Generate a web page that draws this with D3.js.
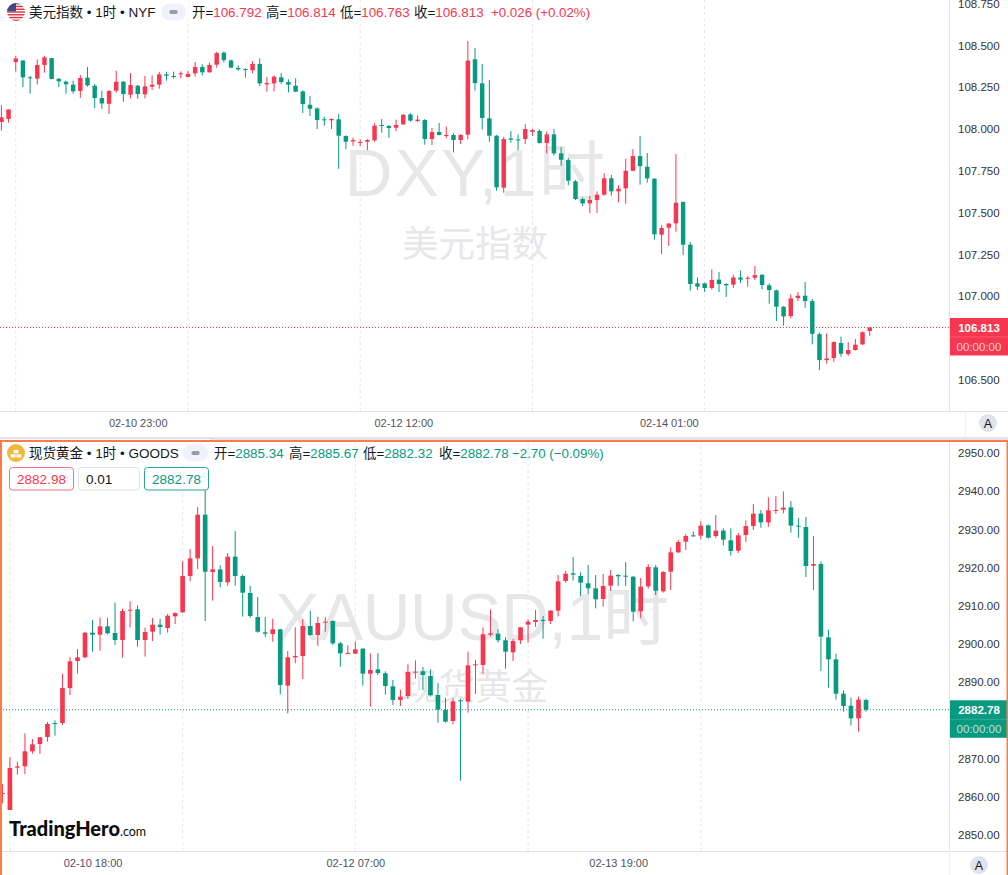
<!DOCTYPE html>
<html>
<head>
<meta charset="utf-8">
<script src="https://cdn.jsdelivr.net/npm/d3@7"></script>
<style>
  html, body { margin: 0; padding: 0; background: #fff; }
  svg { display: block; font-family: "Liberation Sans", "Noto Sans CJK SC", sans-serif; }
  .domain { display: none; }
</style>
</head>
<body>
<div id="chart"></div>
<script>
// [open, high, low, close] per hourly candle
const dxyCandles = [
  [108.042,108.143,107.990,108.070],[108.060,108.117,108.038,108.117],[108.400,108.436,108.343,108.422],[108.410,108.412,108.251,108.309],
  [108.309,108.317,108.211,108.303],[108.301,108.416,108.267,108.383],[108.383,108.438,108.337,108.428],[108.424,108.426,108.297,108.299],
  [108.301,108.303,108.251,108.285],[108.283,108.289,108.211,108.267],[108.265,108.289,108.211,108.225],[108.227,108.323,108.187,108.305],
  [108.307,108.371,108.253,108.261],[108.259,108.269,108.125,108.185],[108.185,108.229,108.121,108.153],[108.151,108.233,108.089,108.227],
  [108.229,108.349,108.217,108.283],[108.283,108.287,108.163,108.209],[108.205,108.335,108.183,108.263],[108.259,108.263,108.181,108.209],
  [108.207,108.317,108.183,108.255],[108.253,108.321,108.233,108.265],[108.265,108.341,108.241,108.327],[108.327,108.343,108.289,108.319],
  [108.317,108.343,108.301,108.313],[108.327,108.345,108.303,108.333],[108.311,108.349,108.309,108.329],[108.333,108.401,108.313,108.371],
  [108.371,108.387,108.321,108.339],[108.339,108.397,108.337,108.383],[108.385,108.462,108.367,108.454],[108.456,108.464,108.397,108.412],
  [108.410,108.416,108.365,108.367],[108.365,108.381,108.349,108.357],[108.359,108.363,108.307,108.355],[108.351,108.406,108.333,108.389],
  [108.389,108.422,108.257,108.273],[108.267,108.311,108.223,108.275],[108.273,108.321,108.225,108.313],[108.309,108.335,108.269,108.281],
  [108.281,108.297,108.219,108.265],[108.259,108.303,108.221,108.223],[108.225,108.231,108.095,108.149],[108.145,108.197,108.078,108.121],
  [108.123,108.129,108.000,108.054],[108.058,108.074,108.020,108.052],[108.052,108.064,108.000,108.060],[108.058,108.089,107.762,107.960],
  [107.958,107.962,107.880,107.924],[107.926,107.948,107.900,107.934],[107.916,107.938,107.898,107.922],[107.924,107.940,107.874,107.934],
  [107.932,108.034,107.924,108.020],[108.024,108.060,107.978,108.018],[108.018,108.024,107.948,108.006],[108.008,108.056,107.988,108.024],
  [108.028,108.089,108.024,108.085],[108.087,108.095,108.044,108.050],[108.048,108.081,108.040,108.056],[108.054,108.060,107.906,107.940],
  [107.940,108.006,107.904,107.982],[107.982,108.036,107.962,107.964],[107.958,108.014,107.944,107.964],[107.964,107.974,107.860,107.934],
  [107.934,107.970,107.910,107.964],[107.966,108.526,107.938,108.409],[108.417,108.484,108.229,108.275],[108.273,108.389,107.996,108.066],
  [108.064,108.293,107.924,107.960],[107.960,107.964,107.631,107.651],[107.649,107.954,107.619,107.940],[107.944,107.988,107.918,107.936],
  [107.938,107.968,107.874,107.932],[107.940,108.030,107.910,108.000],[107.984,108.000,107.958,107.994],[107.988,107.998,107.914,107.916],
  [107.916,107.986,107.854,107.968],[107.968,108.000,107.842,107.854],[107.854,107.892,107.780,107.816],[107.814,107.826,107.663,107.691],
  [107.687,107.695,107.575,107.581],[107.581,107.591,107.539,107.555],[107.555,107.599,107.497,107.575],[107.575,107.627,107.497,107.607],
  [107.607,107.735,107.601,107.705],[107.705,107.725,107.601,107.627],[107.627,107.665,107.561,107.643],[107.645,107.822,107.553,107.750],
  [107.750,107.880,107.748,107.838],[107.838,107.958,107.667,107.778],[107.774,107.856,107.679,107.705],[107.703,107.705,107.338,107.370],
  [107.368,107.426,107.252,107.408],[107.410,107.438,107.300,107.434],[107.436,107.850,107.386,107.559],[107.563,107.567,107.246,107.308],
  [107.308,107.324,107.033,107.073],[107.077,107.112,107.037,107.057],[107.077,107.081,107.025,107.049],[107.049,107.160,107.039,107.097],
  [107.099,107.144,107.025,107.073],[107.073,107.077,106.995,107.065],[107.069,107.128,107.049,107.112],[107.112,107.154,107.079,107.099],
  [107.104,107.120,107.057,107.110],[107.110,107.180,107.097,107.126],[107.128,107.132,107.041,107.067],[107.065,107.077,106.955,107.037],
  [107.035,107.039,106.851,106.937],[106.937,106.941,106.823,106.879],[106.881,107.011,106.867,106.987],[106.989,107.025,106.971,107.003],
  [107.003,107.085,106.931,106.971],[106.971,106.983,106.712,106.775],[106.773,106.783,106.558,106.618],[106.618,106.777,106.596,106.628],
  [106.630,106.730,106.608,106.726],[106.720,106.758,106.638,106.656],[106.654,106.726,106.642,106.678],[106.678,106.744,106.674,106.710],
  [106.712,106.789,106.708,106.785],[106.792,106.814,106.763,106.813]
];

const goldCandles = [
  [2860.74,2863.35,2858.29,2861.00],[2856.55,2870.42,2856.55,2867.54],[2867.63,2869.20,2865.80,2867.98],[2867.98,2876.62,2865.97,2871.91],
  [2871.91,2875.13,2871.29,2873.74],[2873.82,2875.66,2871.21,2875.57],[2875.66,2879.58,2874.44,2879.06],[2879.32,2880.02,2876.01,2879.06],
  [2879.32,2892.24,2878.80,2888.48],[2888.48,2896.60,2886.65,2895.47],[2895.55,2898.69,2892.24,2896.51],[2896.51,2903.14,2896.24,2902.96],
  [2902.96,2906.28,2897.99,2902.44],[2902.44,2906.89,2898.25,2904.62],[2904.62,2906.89,2902.53,2902.79],[2902.88,2910.82,2899.74,2901.04],
  [2901.04,2909.25,2896.42,2908.64],[2908.72,2911.17,2904.36,2908.98],[2909.07,2910.12,2899.30,2901.04],[2901.04,2904.27,2896.68,2903.14],
  [2903.23,2906.80,2900.78,2905.06],[2905.06,2906.63,2902.44,2904.45],[2904.19,2907.85,2902.96,2907.41],[2907.24,2908.29,2905.23,2908.11],
  [2908.29,2921.64,2908.20,2917.80],[2917.80,2924.87,2916.40,2922.42],[2922.42,2935.86,2919.63,2933.85],[2933.85,2940.31,2906.02,2918.93],
  [2918.85,2925.65,2911.34,2919.54],[2919.54,2920.59,2914.83,2916.23],[2916.14,2923.82,2915.27,2922.86],[2922.86,2929.58,2915.27,2917.80],
  [2917.80,2918.23,2907.15,2913.43],[2913.35,2915.18,2906.89,2907.33],[2907.06,2912.30,2902.96,2903.23],[2903.05,2907.06,2901.83,2902.70],
  [2902.61,2906.63,2900.61,2903.84],[2903.84,2904.01,2886.82,2889.26],[2889.09,2898.16,2881.85,2896.51],[2896.51,2904.36,2894.94,2896.86],
  [2896.86,2906.54,2890.83,2904.71],[2904.71,2908.64,2902.18,2902.35],[2902.35,2907.15,2899.56,2905.49],[2905.59,2907.07,2903.23,2905.85],
  [2906.03,2906.11,2899.74,2900.18],[2900.18,2900.53,2894.07,2897.56],[2897.47,2899.66,2897.39,2897.65],[2897.47,2900.70,2897.39,2898.61],
  [2898.78,2898.87,2889.10,2892.24],[2892.24,2897.56,2883.60,2893.20],[2893.37,2897.56,2891.89,2892.41],[2892.33,2892.85,2886.74,2889.01],
  [2888.92,2890.58,2884.04,2885.35],[2885.35,2888.05,2883.77,2886.22],[2886.39,2894.68,2885.69,2892.68],[2892.50,2895.73,2890.93,2892.76],
  [2892.85,2893.98,2887.96,2891.89],[2891.63,2893.37,2886.22,2886.57],[2886.65,2889.79,2879.41,2882.81],[2882.73,2885.96,2879.41,2879.67],
  [2879.85,2885.78,2878.98,2885.00],[2885.26,2885.69,2864.23,2885.00],[2884.91,2898.00,2882.03,2894.42],[2894.42,2895.82,2886.92,2894.68],
  [2894.51,2904.37,2892.24,2902.54],[2902.45,2909.08,2902.01,2902.80],[2902.71,2903.84,2900.35,2900.97],[2900.97,2901.75,2893.55,2898.00],
  [2897.82,2901.31,2895.55,2900.79],[2900.97,2904.37,2900.00,2904.37],[2905.07,2906.46,2900.35,2905.85],[2905.76,2908.91,2904.46,2906.29],
  [2906.29,2907.33,2901.40,2906.03],[2906.03,2908.91,2905.24,2908.73],[2908.73,2918.07,2907.25,2916.41],[2916.50,2919.11,2916.06,2918.42],
  [2918.50,2922.78,2916.58,2918.15],[2917.81,2918.77,2912.48,2916.06],[2915.89,2920.69,2913.09,2914.58],[2914.57,2918.06,2909.33,2911.69],
  [2911.78,2918.32,2909.77,2915.18],[2915.27,2919.37,2913.87,2917.89],[2918.06,2918.32,2915.18,2917.71],[2917.89,2921.46,2915.18,2917.71],
  [2917.62,2917.80,2905.93,2908.46],[2908.55,2917.28,2906.72,2915.01],[2915.09,2920.94,2914.48,2920.16],[2920.07,2920.68,2912.83,2913.96],
  [2913.79,2919.11,2913.44,2918.85],[2918.93,2925.30,2914.13,2923.99],[2923.99,2927.31,2923.82,2926.70],[2926.79,2928.79,2924.61,2928.27],
  [2928.44,2929.49,2928.10,2928.18],[2928.36,2932.11,2927.40,2930.98],[2931.06,2931.32,2927.57,2927.83],[2928.27,2933.77,2927.75,2929.67],
  [2929.67,2930.28,2925.83,2927.31],[2927.14,2930.28,2923.12,2924.34],[2924.43,2929.06,2923.82,2928.44],[2928.53,2932.37,2926.70,2930.89],
  [2930.89,2936.65,2929.84,2934.12],[2934.12,2935.08,2930.45,2931.85],[2931.85,2938.39,2930.71,2934.99],[2934.90,2938.74,2934.03,2935.08],
  [2935.16,2939.96,2934.20,2935.69],[2935.77,2937.43,2929.14,2930.98],[2930.98,2932.98,2927.75,2930.71],[2930.63,2933.24,2917.54,2920.42],
  [2920.50,2928.27,2914.13,2920.94],[2920.94,2921.64,2892.93,2901.92],[2901.74,2903.75,2888.57,2895.98],[2895.98,2897.47,2885.43,2887.00],
  [2887.00,2887.87,2882.28,2883.77],[2883.86,2885.95,2878.71,2880.54],[2880.54,2886.21,2877.05,2885.43],[2885.34,2885.67,2882.32,2882.78]
];

const dxyPriceTicks = [108.75, 108.5, 108.25, 108, 107.75, 107.5, 107.25, 107, 106.5];
const goldPriceTicks = [2950, 2940, 2930, 2920, 2910, 2900, 2890, 2870, 2860, 2850];
const dxyGridIdx = [2, 26, 50, 74, 98];
const goldGridIdx = [1, 24, 47, 70, 93];
const dxyTimeIdx = [19, 56, 93];
const dxyTimeLabels = ["02-10 23:00", "02-12 12:00", "02-14 01:00"];
const goldTimeIdx = [12, 47, 82];
const goldTimeLabels = ["02-10 18:00", "02-12 07:00", "02-13 19:00"];

const UP = "#f7374f";
const DOWN = "#089981";
const TEXT = "#131722";
const LINE = "#e0e3eb";

const svg = d3.select("#chart").append("svg")
  .attr("width", 1008)
  .attr("height", 875);

svg.append("rect").attr("width", 1008).attr("height", 875).attr("fill", "#fff");

// Draws one pane: watermark, grid, candles, last price line, axes
function drawPane(cfg) {
  const { candles, x, y, top, bottom } = cfg;
  const g = svg.append("g");
  const clipId = cfg.name + "-clip";

  svg.append("clipPath").attr("id", clipId)
    .append("rect")
    .attr("x", 0).attr("y", top)
    .attr("width", 949).attr("height", bottom - top);

  // Watermark
  g.append("text")
    .attr("x", cfg.markX).attr("y", cfg.markY)
    .attr("text-anchor", "middle")
    .style("font-size", "66px")
    .style("letter-spacing", cfg.markSpacing)
    .attr("fill", "#e7e7ea")
    .text(cfg.mark);
  g.append("text")
    .attr("x", cfg.markX2).attr("y", cfg.markY2)
    .attr("text-anchor", "middle")
    .style("font-size", "36.5px")
    .attr("fill", "#e7e7ea")
    .text(cfg.mark2);

  // Vertical grid
  g.selectAll(".grid")
    .data(cfg.gridIdx)
    .enter().append("line")
    .attr("x1", d => x(d)).attr("x2", d => x(d))
    .attr("y1", top).attr("y2", bottom)
    .attr("stroke", "#e3e5ec")
    .attr("stroke-dasharray", "3 3");

  const bodyW = (x(1) - x(0)) * 0.62;
  const plot = g.append("g").attr("clip-path", `url(#${clipId})`);
  const candle = plot.selectAll(".candle")
    .data(candles)
    .enter().append("g")
    .attr("fill", d => d[3] >= d[0] ? UP : DOWN)
    .attr("stroke", d => d[3] >= d[0] ? UP : DOWN);

  candle.append("line")
    .attr("x1", (d, i) => x(i)).attr("x2", (d, i) => x(i))
    .attr("y1", d => y(d[1])).attr("y2", d => y(d[2]));

  candle.append("rect")
    .attr("x", (d, i) => x(i) - bodyW / 2)
    .attr("width", bodyW)
    .attr("y", d => y(Math.max(d[0], d[3])))
    .attr("height", d => Math.max(1, Math.abs(y(d[0]) - y(d[3]))))
    .attr("stroke", "none");

  // Last price line
  const last = candles[candles.length - 1];
  const lastColor = last[3] >= last[0] ? UP : DOWN;
  g.append("line")
    .attr("x1", 0).attr("x2", 949)
    .attr("y1", y(last[3])).attr("y2", y(last[3]))
    .attr("stroke", lastColor)
    .attr("stroke-dasharray", "1 2");

  // Axes frame
  g.append("line").attr("x1", 949.5).attr("x2", 949.5).attr("y1", top).attr("y2", bottom).attr("stroke", LINE);
  g.append("line").attr("x1", 0).attr("x2", 1008).attr("y1", bottom + 0.5).attr("y2", bottom + 0.5).attr("stroke", LINE);

  const yAxis = d3.axisRight(y)
    .tickValues(cfg.priceTicks)
    .tickFormat(d3.format(cfg.priceFormat))
    .tickSize(0)
    .tickPadding(9);
  g.append("g")
    .attr("transform", "translate(949,0)")
    .call(yAxis)
    .selectAll("text")
    .style("font-size", "11.5px")
    .style("font-family", "inherit")
    .attr("fill", "#333");

  const xAxis = d3.axisBottom(x)
    .tickValues(cfg.timeIdx)
    .tickFormat((d, i) => cfg.timeLabels[i])
    .tickSize(0)
    .tickPadding(8);
  g.append("g")
    .attr("transform", `translate(0,${bottom})`)
    .call(xAxis)
    .selectAll("text")
    .style("font-size", "11px")
    .style("font-family", "inherit")
    .attr("fill", "#50535e");

  // Last price tag
  const tagY = y(last[3]) - 9.5;
  g.append("rect").attr("x", 950).attr("y", tagY).attr("width", 58).attr("height", 37.5).attr("fill", lastColor);
  g.append("line").attr("x1", 950).attr("x2", 1008).attr("y1", tagY + 19).attr("y2", tagY + 19)
    .attr("stroke", "#fff").attr("stroke-opacity", 0.18);
  g.append("text").attr("x", 979).attr("y", tagY + 14)
    .attr("text-anchor", "middle").attr("fill", "#fff")
    .style("font-size", "11.5px").style("font-weight", "bold")
    .text(d3.format(cfg.priceFormat)(last[3]));
  g.append("text").attr("x", 979).attr("y", tagY + 33)
    .attr("text-anchor", "middle").attr("fill", "#fff").attr("fill-opacity", 0.75)
    .style("font-size", "11.5px")
    .text("00:00:00");

  return g;
}

// Title row: name, collapse pill, OHLC values
function drawLegend(g, cfg) {
  const y0 = cfg.legendY;
  g.append("rect").attr("x", 0).attr("y", y0 - 14).attr("width", cfg.pillX + 27).attr("height", 26).attr("fill", "#fff");
  g.append("text").attr("x", 29).attr("y", y0 + 4.5)
    .attr("fill", TEXT).style("font-size", "13.5px").text(cfg.title);
  g.append("rect").attr("x", cfg.pillX).attr("y", y0 - 8.5).attr("width", 25).attr("height", 17).attr("rx", 8.5).attr("fill", "#f0f1fa");
  g.append("rect").attr("x", cfg.pillX + 8.5).attr("y", y0 - 2).attr("width", 8).attr("height", 4).attr("rx", 1.5).attr("fill", "#9a9ca3");

  const labels = ["开=", "高=", "低=", "收="];
  const color = cfg.legendColor;
  labels.forEach((label, i) => {
    const t = g.append("text").attr("x", cfg.legendX[i]).attr("y", y0 + 4.5).style("font-size", "13.4px");
    t.append("tspan").attr("fill", TEXT).text(label);
    t.append("tspan").attr("fill", color).text(cfg.legendValues[i]);
  });
  g.append("text").attr("x", cfg.legendX[4]).attr("y", y0 + 4.5)
    .attr("fill", color).style("font-size", "13.3px").text(cfg.legendChange);
}

const dxyY = d3.scaleLinear().domain([106.5, 108.75]).range([379.8, 3.6]);
const dxyX = d3.scaleLinear().domain([0, 121]).range([1.4, 869.7]);
const goldY = d3.scaleLinear().domain([2850, 2950]).range([835, 453]);
const goldX = d3.scaleLinear().domain([0, 115]).range([2.4, 866]);

const topPane = drawPane({
  name: "dxy", candles: dxyCandles, x: dxyX, y: dxyY, top: 0, bottom: 411,
  gridIdx: dxyGridIdx, priceTicks: dxyPriceTicks, priceFormat: ".3f",
  timeIdx: dxyTimeIdx, timeLabels: dxyTimeLabels,
  mark: "DXY,1时", mark2: "美元指数", markX: 476, markX2: 475, markY: 196, markY2: 257, markSpacing: "2.4px"
});

// Pane gap
svg.append("rect").attr("x", 0).attr("y", 437).attr("width", 1008).attr("height", 3).attr("fill", LINE);

const bottomPane = drawPane({
  name: "gold", candles: goldCandles, x: goldX, y: goldY, top: 440, bottom: 851,
  gridIdx: goldGridIdx, priceTicks: goldPriceTicks, priceFormat: ".2f",
  timeIdx: goldTimeIdx, timeLabels: goldTimeLabels,
  mark: "XAUUSD,1时", mark2: "现货黄金", markX: 472, markX2: 475, markY: 640, markY2: 700, markSpacing: "-0.3px"
});

drawLegend(topPane, {
  legendY: 12, title: "美元指数 • 1时 • NYF", pillX: 161, legendColor: UP,
  legendX: [192, 266, 340, 414, 491],
  legendValues: ["106.792", "106.814", "106.763", "106.813"],
  legendChange: "+0.026 (+0.02%)"
});
drawLegend(bottomPane, {
  legendY: 453, title: "现货黄金 • 1时 • GOODS", pillX: 183, legendColor: DOWN,
  legendX: [214, 289, 363, 439, 512],
  legendValues: ["2885.34", "2885.67", "2882.32", "2882.78"],
  legendChange: "−2.70 (−0.09%)"
});

// US flag icon
const flagClip = svg.append("clipPath").attr("id", "flag-clip");
flagClip.append("circle").attr("cx", 16).attr("cy", 12).attr("r", 9);
const flag = svg.append("g").attr("clip-path", "url(#flag-clip)");
flag.append("rect").attr("x", 7).attr("y", 3).attr("width", 18).attr("height", 18).attr("fill", "#fff");
d3.range(0, 7).forEach(i => {
  flag.append("rect").attr("x", 7).attr("y", 3 + i * 2.77).attr("width", 18).attr("height", 1.4).attr("fill", "#d5303e");
});
flag.append("rect").attr("x", 7).attr("y", 3).attr("width", 9).attr("height", 8.3).attr("fill", "#3b4a8c");

// Gold icon
svg.append("circle").attr("cx", 16).attr("cy", 453).attr("r", 9).attr("fill", "#f2b83b");
[[10.6, 454.2, 5], [16.4, 454.2, 5], [13.5, 450, 5]].forEach(([bx, by, bw]) => {
  svg.append("rect")
    .attr("x", bx).attr("y", by)
    .attr("width", bw).attr("height", 3.2).attr("rx", 0.6).attr("fill", "#fff");
});

// Order boxes
const orderBoxes = [
  { x: 9, w: 64, text: "2882.98", color: UP, border: "#f4707f" },
  { x: 78, w: 61, text: "0.01", color: TEXT, border: LINE, left: true },
  { x: 144, w: 64, text: "2882.78", color: DOWN, border: "#2aa792" }
];
orderBoxes.forEach(b => {
  svg.append("rect")
    .attr("x", b.x + 0.5).attr("y", 467.5).attr("width", b.w).attr("height", 22.5).attr("rx", 3)
    .attr("fill", "#fff").attr("stroke", b.border);
  svg.append("text")
    .attr("x", b.left ? b.x + 8 : b.x + b.w / 2 + 0.5).attr("y", 483.5)
    .attr("text-anchor", b.left ? "start" : "middle")
    .attr("fill", b.color).style("font-size", "13.5px").text(b.text);
});

// Auto scale buttons
[[988, 423], [979, 865]].forEach(([cx, cy]) => {
  svg.append("circle").attr("cx", cx).attr("cy", cy).attr("r", 9).attr("fill", LINE);
  svg.append("text").attr("x", cx).attr("y", cy + 4.5).attr("text-anchor", "middle")
    .attr("fill", TEXT).style("font-size", "12.5px").text("A");
});
svg.append("line").attr("x1", 965.5).attr("x2", 965.5).attr("y1", 411).attr("y2", 437).attr("stroke", "#f0f2f6");
svg.append("line").attr("x1", 949.5).attr("x2", 949.5).attr("y1", 851).attr("y2", 875).attr("stroke", "#f0f2f6");

// Active pane border
svg.append("rect").attr("x", 0).attr("y", 440).attr("width", 1008).attr("height", 2).attr("fill", "#ff7b47");
svg.append("rect").attr("x", 0).attr("y", 440).attr("width", 2).attr("height", 435).attr("fill", "#ff7b47");
svg.append("rect").attr("x", 1006.5).attr("y", 440).attr("width", 1.5).attr("height", 435).attr("fill", "#ff7b47");

// Logo
const logo = svg.append("text").attr("x", 9).attr("y", 836).attr("fill", "#0b0b0b");
logo.append("tspan").style("font-family", "Lato, sans-serif").style("font-weight", "900").style("font-size", "20px").text("TradingHero");
logo.append("tspan").style("font-family", "Lato, sans-serif").style("font-weight", "400").style("font-size", "12.5px").text(".com");
</script>
</body>
</html>
